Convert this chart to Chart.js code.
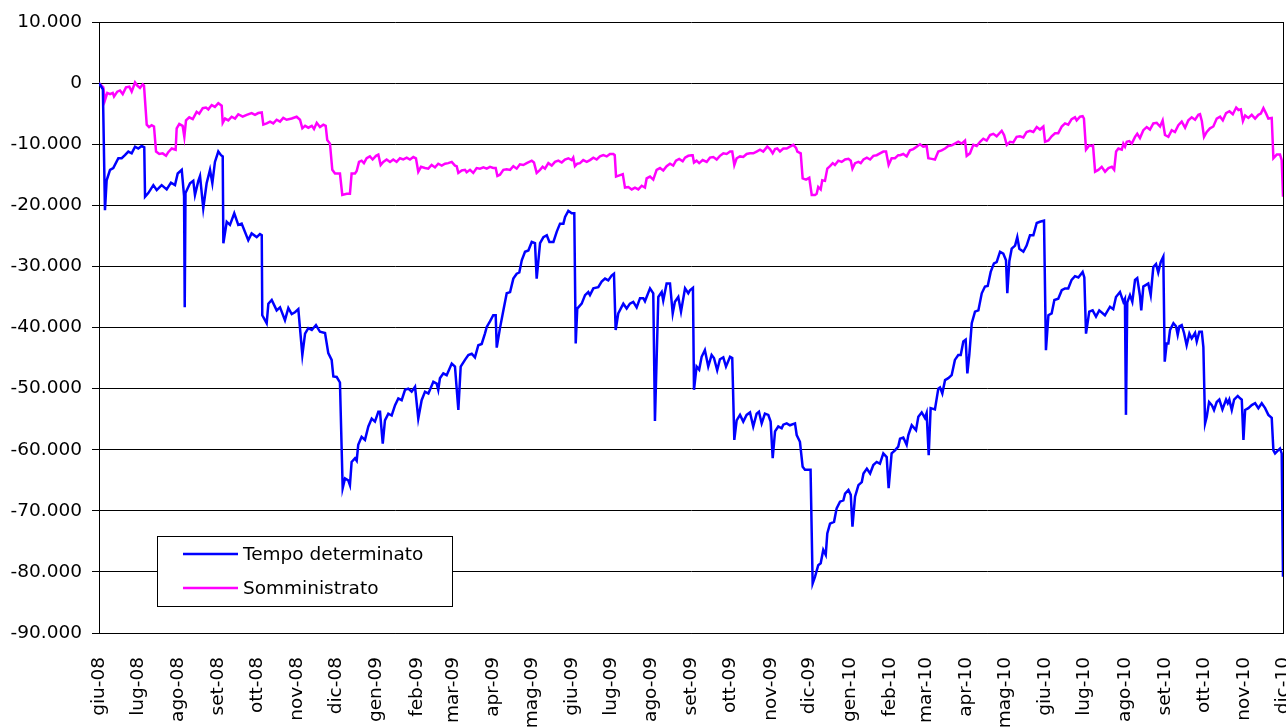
<!DOCTYPE html>
<html lang="it">
<head>
<meta charset="utf-8">
<title>Tempo determinato e Somministrato</title>
<script src="https://cdn.jsdelivr.net/npm/chart.js@4.4.1/dist/chart.umd.min.js"></script>
<style>
  html, body { margin: 0; padding: 0; background: #fff; overflow: hidden; }
  #wrap { width: 1286px; height: 728px; }
</style>
</head>
<body>
<div id="wrap"><canvas id="grafico" width="1286" height="728"></canvas></div>
<script>
// --- dati (giorni dal 1 giugno 2008, valore) ---
const etichetteMesi = ['giu-08','lug-08','ago-08','set-08','ott-08','nov-08','dic-08',
  'gen-09','feb-09','mar-09','apr-09','mag-09','giu-09','lug-09','ago-09','set-09','ott-09','nov-09','dic-09',
  'gen-10','feb-10','mar-10','apr-10','mag-10','giu-10','lug-10','ago-10','set-10','ott-10','nov-10','dic-10'];

const tempoDeterminato = [
  [0,0],[3,-1000],[4.6,-20800],[5.9,-15900],[8.5,-14200],[11,-13900],[14.9,-12300],[17.5,-12300],[20,-11800],[22.6,-11200],
  [25.2,-11500],[27.8,-10400],[30.3,-10700],[32.9,-10300],[34.9,-10500],[35.5,-18600],[38,-18000],[41.9,-16700],[44.5,-17500],[48.3,-16700],
  [52.2,-17400],[55.5,-16300],[58.6,-16700],[60.7,-14800],[63.8,-14200],[65.6,-18500],[66.1,-36700],[66.7,-18000],[70.2,-16400],[72.7,-16000],
  [74,-18300],[76.6,-16000],[77.9,-15200],[80.4,-20500],[83,-16400],[85.6,-14200],[87.4,-16400],[89.4,-12900],[92,-11200],[94.1,-11800],
  [95.4,-12000],[95.9,-26200],[98.5,-22700],[101,-23200],[104.3,-21300],[107.4,-23200],[110,-23000],[115.1,-25700],[117.7,-24600],[121.6,-25200],
  [124.1,-24700],[125.5,-24900],[125.9,-38000],[129.3,-39300],[130.6,-36100],[133.2,-35500],[137,-37200],[139.6,-36700],[143.4,-38800],[146,-36800],
  [148.6,-37800],[151.1,-37500],[153.7,-37000],[156.8,-44500],[158.9,-41000],[161.4,-40100],[164.1,-40400],[167.3,-39600],[170.4,-40700],[174.3,-40900],
  [176.8,-44200],[179.4,-45300],[180.7,-48000],[183.3,-48100],[185.8,-49000],[187.9,-66300],[189.7,-64700],[192.2,-65000],[193.5,-65800],[194.8,-62000],
  [197.4,-61400],[198.7,-61800],[199.9,-59200],[202.5,-57900],[205.1,-58400],[207.7,-56200],[210.3,-54900],[212.8,-55400],[215.4,-53800],[216.7,-53800],
  [218.8,-59000],[220.5,-55200],[223.1,-54100],[225.7,-54400],[228.3,-52700],[230.8,-51600],[233.4,-51900],[236,-50200],[238.5,-50000],[241.1,-50500],
  [243.7,-49700],[246.2,-54900],[248.8,-51900],[251.4,-50500],[254,-50800],[257.8,-48900],[260.4,-49200],[261.6,-50200],[262.9,-48300],[265.5,-47500],
  [268.1,-47800],[272,-45900],[274.5,-46400],[277.1,-53500],[278.9,-46400],[282.2,-45300],[284.8,-44500],[287.4,-44300],[289.9,-44900],[292.5,-42900],
  [295.1,-42700],[297.6,-41000],[299,-39900],[301.5,-39000],[304,-38000],[305.9,-38000],[306.7,-43300],[309.2,-40100],[311.8,-37200],[314.4,-34400],
  [317,-34200],[319.5,-32000],[322.1,-31200],[324.1,-31000],[326,-29000],[328.5,-27600],[331.1,-27400],[333.7,-26000],[336.2,-26200],[337.5,-32000],
  [340.1,-26200],[342.7,-25200],[345.3,-24900],[347.3,-26000],[350.4,-26000],[353,-24300],[355.5,-23000],[358.1,-23000],[359.4,-21900],[361.9,-20900],
  [364.5,-21300],[366.5,-21300],[367.6,-42600],[368.8,-36900],[372.2,-36100],[374.8,-34700],[377.3,-34200],[378.6,-34700],[381.2,-33600],[385,-33400],
  [387.6,-32500],[390.2,-32000],[392.7,-32300],[395.3,-31500],[397.1,-31200],[398.4,-40400],[400.4,-37700],[404.3,-36100],[406.9,-36900],[409.4,-36100],
  [412,-35800],[414.6,-36700],[417.2,-35200],[419.7,-35200],[421,-35700],[424.9,-33600],[427.4,-34400],[428.7,-55300],[431.3,-35000],[433.9,-34200],
  [435.1,-35600],[437.7,-32800],[440.3,-32800],[442.4,-37700],[444.1,-35800],[446.7,-35000],[448.8,-37400],[451.9,-33600],[454.4,-34400],[455.7,-33900],
  [458,-33500],[458.8,-50200],[460.8,-46400],[462.8,-46900],[464.7,-44800],[467.2,-43700],[469.8,-46400],[472.4,-44500],[474.2,-45000],[476.7,-47000],
  [478.8,-45200],[481.4,-44900],[483.5,-46400],[486.6,-44800],[488.3,-45000],[489.9,-58400],[491.7,-55200],[494.3,-54300],[496.8,-55400],[499.4,-54300],
  [502,-53900],[504.5,-56200],[507.1,-54100],[508.9,-53800],[511,-55700],[513.5,-54100],[516.1,-54300],[517.9,-55400],[519.5,-61400],[521.3,-57000],
  [523.8,-56200],[526.4,-56500],[527.7,-55900],[530.3,-55700],[532.8,-56000],[536.7,-55700],[538,-57600],[540.5,-58700],[542.6,-62800],[544.4,-63300],
  [548.7,-63300],[550.3,-81900],[552.1,-80800],[554.6,-78900],[556.5,-78600],[558.5,-76400],[560.4,-77200],[561.6,-73700],[563.7,-72100],[566.8,-71800],
  [568.8,-69600],[571.4,-68500],[574,-68300],[575.3,-67200],[577.9,-66600],[579.7,-67400],[581,-72600],[583,-67700],[585.6,-65800],[588.2,-65300],
  [589.5,-63900],[592.1,-63100],[594.6,-63900],[597.1,-62500],[599.7,-62000],[602.2,-62300],[604.8,-60600],[607.4,-61200],[608.9,-66300],[611.2,-60600],
  [613.8,-60100],[616.3,-59500],[617.7,-58200],[620.2,-58000],[622.8,-59200],[624.1,-57600],[626.7,-56000],[630,-56800],[631.8,-54600],[634.4,-53900],
  [636.9,-54800],[638.2,-54000],[639.8,-60900],[641.3,-53200],[644.6,-53400],[647.2,-50000],[648.5,-49800],[650.3,-50800],[652.4,-48600],[654.9,-48300],
  [657.5,-47800],[660,-45300],[662.6,-44500],[664.5,-44500],[666.5,-42300],[668.3,-42000],[669.6,-47500],[671.1,-44500],[673,-39300],[675.5,-37400],
  [678.1,-37200],[680.7,-34400],[683.2,-33300],[685.3,-33200],[687.6,-30900],[690.1,-29500],[692.2,-29300],[694.8,-27600],[697.3,-27900],[699.4,-29000],
  [700.4,-34400],[702,-29100],[703.8,-27100],[706.4,-26600],[708.1,-25200],[709.7,-27100],[712.8,-27600],[715.3,-26600],[717.9,-24900],[720.5,-24900],
  [723.1,-22900],[725.6,-22700],[728.7,-22500],[730.2,-43700],[732.1,-38000],[734.6,-37700],[736.7,-35500],[739.7,-35300],[742.4,-33900],[744.9,-33600],
  [747.4,-33600],[750,-32200],[752.6,-31600],[755.2,-31800],[758.5,-30900],[759.8,-31800],[761.1,-41000],[763.6,-37400],[766.2,-37200],[768.8,-38200],
  [771.3,-37200],[775.7,-38000],[779.6,-36600],[782.1,-37000],[784.2,-35000],[787.3,-34200],[789.9,-35800],[791.1,-35300],[791.9,-54300],[792.9,-35900],
  [795,-34700],[796.8,-35800],[798.9,-32200],[800.6,-31900],[802.7,-34800],[803.7,-37200],[805.3,-33300],[809.1,-32800],[811,-34700],[813,-30100],
  [815.1,-29600],[816.8,-31000],[818.7,-29300],[820.7,-28400],[821.8,-45600],[823.3,-42600],[824.6,-42600],[825.9,-40400],[828.5,-39300],[830.5,-39800],
  [831.8,-41200],[833.1,-39800],[834.9,-39600],[836.7,-40900],[838.7,-42900],[840.8,-41000],[842.6,-41800],[845.2,-40900],[846.5,-42300],[848.5,-40700],
  [850.4,-40700],[851.6,-43200],[852.9,-55700],[854.2,-54600],[856,-52200],[858.1,-52700],[859.8,-53500],[861.9,-52200],[863.9,-51800],[866.3,-53400],
  [869.1,-51800],[870.4,-52400],[871.6,-51800],[873.5,-53500],[875.3,-51800],[878.1,-51200],[879.9,-51600],[881.2,-51800],[882.5,-58400],[883.8,-53500],
  [886.3,-53200],[888.9,-52700],[891.5,-52400],[894,-53200],[896.6,-52400],[899.2,-53200],[901.7,-54300],[904.3,-54800],[905.6,-60100],[906.9,-60600],
  [910.7,-59800],[912,-60600],[913,-80800]
];

const somministrato = [
  [0,0],[3.3,-700],[4.6,-2800],[6.4,-1600],[8.5,-1800],[10.6,-1600],[11.6,-2200],[14.1,-1400],[16.2,-1200],[18.3,-1800],
  [20.8,-700],[23.4,-600],[25.2,-1400],[27.8,100],[29.5,-400],[31.6,-800],[33.7,-200],[34.7,-400],[36.8,-6800],[38.6,-7200],
  [40.6,-6900],[42.4,-7100],[44,-11200],[46.5,-11600],[49.1,-11500],[51.7,-11900],[53.4,-11300],[56.1,-10700],[59.1,-10900],[59.9,-7400],
  [61.9,-6700],[64.5,-7000],[65.8,-8800],[67.1,-6100],[69.6,-5600],[72.3,-5900],[75.3,-4700],[77.3,-5000],[80,-4100],[82.5,-4000],
  [84.3,-4300],[86.9,-3600],[89.4,-3900],[92,-3300],[94.6,-3700],[95.4,-6500],[97.2,-5800],[99.7,-6100],[102.3,-5500],[104.9,-5800],
  [107.4,-5100],[110.8,-5500],[113.9,-5200],[117.7,-4900],[120.3,-5200],[122.8,-4900],[125.5,-4800],[126.7,-6800],[129.3,-6600],[131.9,-6300],
  [134.4,-6600],[137,-6000],[139.6,-6300],[142.1,-5700],[144.7,-6000],[148.6,-5800],[152.4,-5500],[155,-6000],[156.8,-7400],[158.9,-7000],
  [161.4,-7300],[164.1,-7000],[165.8,-7500],[167.9,-6500],[170.4,-7200],[173,-6800],[174.8,-7000],[176,-9300],[178.1,-9900],[179.9,-14200],
  [182,-14800],[185.8,-14800],[187.6,-18300],[191,-18100],[193.5,-18100],[194.8,-14800],[197.4,-14800],[198.7,-14400],[200.5,-12900],[202.5,-12700],
  [204.3,-13100],[206.4,-12300],[208.9,-12000],[211,-12500],[213.6,-11900],[215.4,-11700],[217.2,-13400],[219.2,-12900],[221.8,-12500],[224.4,-12900],
  [226.9,-12500],[229.5,-12900],[232.1,-12300],[234.6,-12500],[237.3,-12200],[239.8,-12500],[242.4,-12100],[244.4,-12300],[246.2,-14500],[248.3,-13700],
  [251.4,-13900],[253.9,-14000],[256.5,-13400],[259.1,-13800],[261.6,-13200],[264.3,-13500],[266.8,-13200],[269.3,-13100],[272,-12900],[274.5,-13500],
  [275.8,-13600],[277.1,-14700],[279.7,-14300],[282.2,-14200],[283.5,-14600],[286.1,-14200],[288.6,-14700],[291.2,-13900],[293.8,-14000],[296.4,-13800],
  [299,-14000],[301.5,-13700],[304,-13900],[305.9,-13900],[307.2,-15200],[309.2,-15000],[311.8,-14200],[314.4,-14100],[317,-14200],[319.5,-13600],
  [322.1,-14000],[324.6,-13300],[327.2,-13400],[329.8,-13100],[333.7,-12700],[335.4,-13000],[337.5,-14700],[340.1,-14200],[342.1,-13700],[343.9,-14000],
  [346.5,-13100],[349.1,-13500],[351.6,-12900],[354.2,-12700],[356.8,-13000],[359.3,-12500],[361.9,-12300],[364.5,-12600],[365.7,-12200],[367,-13600],
  [368.8,-13200],[370.9,-13100],[373.4,-12600],[376.1,-12900],[378.6,-12600],[381.2,-12200],[383.8,-12500],[386.3,-12000],[388.9,-11800],[391.5,-12000],
  [394,-11600],[396.6,-11600],[397.7,-11800],[398.7,-15300],[401.3,-15100],[403.9,-14900],[405.6,-17100],[408.2,-17000],[410.8,-17400],[413.3,-17100],
  [415.9,-17400],[418.5,-16800],[421,-17100],[422.3,-15600],[424.9,-15300],[427.4,-15800],[430,-14200],[432.6,-13900],[435.1,-14300],[437.7,-13600],
  [440.3,-13200],[442.8,-13500],[444.9,-12700],[447.4,-12400],[450.1,-12800],[451.9,-12200],[454.4,-11900],[457,-11800],[457.8,-11800],[458.8,-13000],
  [460.8,-12700],[462.8,-13100],[465.5,-12600],[468.6,-12900],[471.1,-12200],[473.7,-12100],[476.3,-12500],[478.8,-11900],[481.4,-11500],[484,-11600],
  [486.6,-11200],[488.3,-11200],[489.9,-13400],[491.7,-12300],[494.3,-12000],[496.8,-12100],[499.4,-11600],[502,-11500],[504.5,-11500],[507.1,-11200],
  [509.7,-10900],[512.2,-11200],[515.3,-10400],[517.4,-10800],[519.5,-11500],[521.3,-10800],[523,-10700],[525.1,-11200],[527.7,-10700],[530.3,-10700],
  [532.8,-10400],[535.4,-10100],[537.5,-10600],[538.5,-11200],[541.1,-11500],[542.6,-15600],[545.2,-15800],[547.7,-15500],[549.6,-18300],[552.1,-18300],
  [553.4,-18100],[554.6,-17000],[556.5,-17400],[557.7,-15900],[559.8,-16000],[561.6,-14000],[563.7,-13600],[565.8,-13100],[567.5,-13400],[570.1,-12700],
  [572.7,-12900],[575.3,-12500],[577.9,-12400],[579.7,-12700],[581,-14000],[583,-13100],[585.6,-12900],[587.4,-13100],[589.5,-12500],[592.1,-12200],
  [594.6,-12500],[597.1,-11900],[599.7,-11800],[602.2,-11500],[604.8,-11200],[606.9,-11200],[608.9,-13400],[611.2,-12300],[613.8,-12300],[616.3,-11800],
  [617.7,-11800],[620.2,-11600],[622.8,-12000],[625.3,-11000],[627.9,-10800],[630.5,-10400],[633.1,-10000],[635.6,-10400],[638.2,-10300],[639.5,-12300],
  [642.1,-12400],[644.6,-12500],[647.2,-11200],[649.8,-11000],[652.4,-10700],[654.9,-10300],[657.5,-10200],[660,-9900],[662.6,-9600],[665.2,-9900],
  [667.8,-9400],[669.1,-11900],[671.6,-11500],[674.2,-10100],[676.8,-10300],[679.4,-9600],[681.9,-9100],[684.5,-9400],[687.1,-8500],[689.6,-8300],
  [692.2,-8700],[696.1,-7800],[697.9,-8500],[700,-10100],[702.5,-9600],[705,-9700],[707.6,-8800],[710.2,-8700],[712.8,-8900],[715.3,-8000],
  [717.9,-7800],[720.5,-8000],[723.1,-7200],[725.6,-7600],[728.2,-7100],[729.5,-9600],[732.1,-9400],[734.6,-8700],[737.2,-8200],[739.7,-8200],
  [742.4,-7100],[744.9,-6600],[747.4,-6800],[750,-5900],[752.6,-5600],[753.9,-6100],[756.5,-5500],[758.5,-5400],[759.5,-5800],[761.1,-10900],
  [763.6,-10200],[765.5,-10300],[766.5,-10200],[768.1,-14500],[770.6,-14200],[773.2,-13700],[775.8,-14500],[778.4,-13900],[781,-13700],[782.8,-14200],
  [784.3,-11200],[786.1,-10700],[788.7,-10900],[789.9,-9900],[791.2,-10400],[792.5,-9600],[794.5,-9500],[796.4,-9900],[798.9,-8800],[800.6,-8300],
  [802.7,-9000],[805.3,-7700],[807.9,-7200],[810.4,-7600],[813,-6600],[815.6,-6500],[818.2,-7100],[820.2,-6100],[822,-8500],[824.6,-8800],
  [827.2,-7700],[829.7,-8000],[832.3,-6900],[834.9,-6300],[837.5,-7300],[840,-6100],[842.6,-5600],[845.2,-6000],[847.7,-5200],[849,-5100],
  [850.4,-6200],[852.1,-8800],[854.2,-8000],[856.7,-7400],[859.3,-7100],[861.9,-5800],[864.5,-5500],[866.6,-6100],[869.1,-4900],[871.7,-4600],
  [874.3,-5100],[876.9,-4000],[878.7,-4400],[880.5,-4300],[882.1,-6200],[883.8,-5300],[886.3,-5700],[888.9,-5200],[891.5,-5800],[894,-5200],
  [895.9,-5000],[897.9,-4100],[900,-5000],[901.7,-5800],[904.3,-5700],[905.6,-12300],[908.2,-11700],[910.7,-11700],[912,-12600],[913,-18600]
];

const yMin = -90000, yMax = 10000, yPasso = 10000;

// inizio di ogni mese in giorni dal 1 giugno 2008
const inizio = new Date(2008, 5, 1);
const giorniMesi = etichetteMesi.map((m, i) =>
  Math.round((new Date(2008, 5 + i, 1) - inizio) / 86400000));

function formatoMigliaia(v) {
  const s = String(Math.abs(v)).replace(/\B(?=(\d{3})+(?!\d))/g, '.');
  return v < 0 ? '-' + s : s;
}

const FONT = 'DejaVu Sans';

// legenda dentro il grafico, in basso a sinistra, piu la cornice destra
const legendaRiquadro = {
  id: 'legendaRiquadro',
  afterDraw(chart) {
    const ctx = chart.ctx, area = chart.chartArea;
    ctx.save();
    ctx.strokeStyle = '#000';
    ctx.lineWidth = 1;
    ctx.beginPath();
    ctx.moveTo(Math.round(area.right) + 0.5, area.top);
    ctx.lineTo(Math.round(area.right) + 0.5, area.bottom);
    ctx.stroke();

    const x = Math.round(area.left) + 58, y = 536, w = 295, h = 70;
    ctx.fillStyle = '#fff';
    ctx.fillRect(x, y, w, h);
    ctx.strokeRect(x + 0.5, y + 0.5, w, h);
    chart.data.datasets.forEach((ds, i) => {
      const cy = y + 18 + i * 34;
      ctx.strokeStyle = ds.borderColor;
      ctx.lineWidth = 2.5;
      ctx.beginPath();
      ctx.moveTo(x + 26, cy);
      ctx.lineTo(x + 81, cy);
      ctx.stroke();
      ctx.fillStyle = '#000';
      ctx.font = '18.5px "' + FONT + '"';
      ctx.textBaseline = 'middle';
      ctx.fillText(ds.label, x + 86, cy + 1);
    });
    ctx.restore();
  }
};

const punti = arr => arr.map(p => ({ x: p[0], y: p[1] }));

new Chart(document.getElementById('grafico'), {
  type: 'line',
  data: {
    datasets: [
      { label: 'Tempo determinato', data: punti(tempoDeterminato), borderColor: '#0000ff',
        borderWidth: 2.5, pointRadius: 0, tension: 0, fill: false },
      { label: 'Somministrato', data: punti(somministrato), borderColor: '#ff00ff',
        borderWidth: 2.5, pointRadius: 0, tension: 0, fill: false }
    ]
  },
  options: {
    responsive: false,
    animation: false,
    devicePixelRatio: 1,
    layout: { autoPadding: false, padding: { top: 22, right: 3, bottom: 0, left: 0 } },
    plugins: { legend: { display: false }, tooltip: { enabled: false } },
    scales: {
      x: {
        type: 'linear',
        min: 0,
        max: giorniMesi[giorniMesi.length - 1],
        afterBuildTicks: s => { s.ticks = giorniMesi.map(v => ({ value: v })); },
        afterFit: s => { s.height = 95; s.paddingLeft = 0; s.paddingRight = 0; },
        grid: { display: false },
        border: { display: true, color: '#000', width: 1 },
        ticks: {
          autoSkip: false, minRotation: 90, maxRotation: 90, padding: 16,
          color: '#000', font: { family: FONT, size: 18.5 },
          callback: (v, i) => etichetteMesi[i]
        }
      },
      y: {
        min: yMin, max: yMax,
        afterFit: s => { s.width = 99; s.paddingTop = 0; s.paddingBottom = 0; },
        grid: { color: '#000', lineWidth: 1, tickLength: 7, drawTicks: true },
        border: { display: true, color: '#000', width: 1 },
        ticks: {
          stepSize: yPasso, padding: 10, color: '#000',
          font: { family: FONT, size: 18.5 },
          callback: v => formatoMigliaia(v)
        }
      }
    }
  },
  plugins: [legendaRiquadro]
});
</script>
</body>
</html>
